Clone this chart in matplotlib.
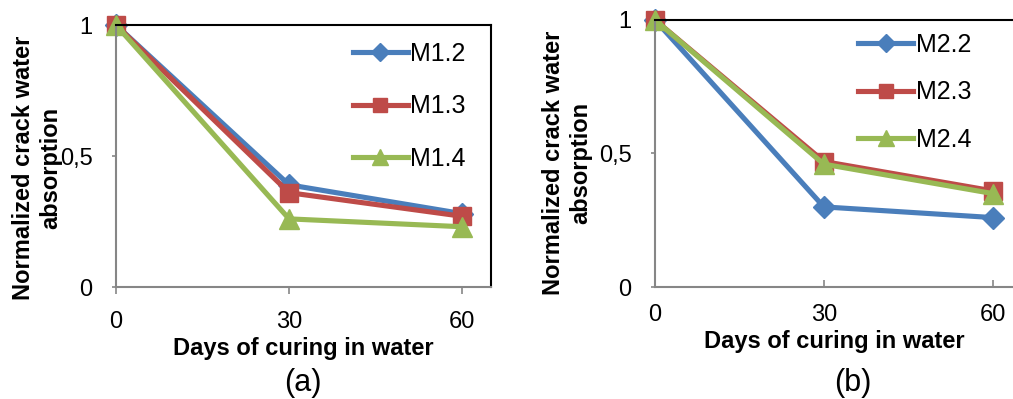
import matplotlib
matplotlib.use("Agg")
import matplotlib.pyplot as plt

plt.rcParams['font.family'] = ['Liberation Sans', 'DejaVu Sans']

days = [0, 30, 60]
ytick_vals = [0, 0.5, 1]
ytick_labels = ['0', '0,5', '1']

# panel (a)
m12 = [1.0, 0.39, 0.28]
m13 = [1.0, 0.36, 0.27]
m14 = [1.0, 0.26, 0.23]

# panel (b)
m22 = [1.0, 0.30, 0.26]
m23 = [1.0, 0.47, 0.36]
m24 = [1.0, 0.46, 0.35]

BLUE = '#4A7EBB'
RED = '#BE4B48'
GREEN = '#98B954'
GRAY = '#868686'


def draw_panel(ax, series, names, xmax, tickdir):
    styles = [(BLUE, 'D', 11), (RED, 's', 13), (GREEN, '^', 14)]
    for vals, name, (c, m, ms) in zip(series, names, styles):
        ax.plot(days, vals, color=c, marker=m, markersize=ms, lw=3.7,
                label=name, clip_on=False)
    ax.set_xlim(0, xmax)
    ax.set_ylim(0, 1)
    ax.set_xticks(days)
    ax.set_yticks(ytick_vals)
    ax.set_yticklabels(ytick_labels)
    ax.tick_params(axis='x', direction=tickdir, length=5, width=1.2,
                   color=GRAY, labelsize=17, pad=12)
    ax.tick_params(axis='y', direction='out', length=3, width=1.2,
                   color=GRAY, labelsize=17, pad=14)
    ax.spines['left'].set_color(GRAY)
    ax.spines['bottom'].set_color(GRAY)
    for s in ax.spines.values():
        s.set_linewidth(1.5)
    ax.set_xlabel('Days of curing in water', fontsize=17, fontweight='bold',
                  labelpad=3)


fig = plt.figure(figsize=(10.13, 3.99), dpi=100)

ax1 = fig.add_axes([0.1145, 0.2807, 0.3702, 0.6566])
draw_panel(ax1, [m12, m13, m14], ['M1.2', 'M1.3', 'M1.4'], 65, 'out')
ax1.legend(loc='upper left', bbox_to_anchor=(0.605, 0.975), frameon=False,
           fontsize=18, numpoints=1, handlelength=2.2, handletextpad=0.1,
           labelspacing=1.15, markerscale=0.8, borderaxespad=0)

ax2 = fig.add_axes([0.6466, 0.2807, 0.3534, 0.6692])
draw_panel(ax2, [m22, m23, m24], ['M2.2', 'M2.3', 'M2.4'], 63.6, 'in')
ax2.spines['right'].set_visible(False)
ax2.legend(loc='upper left', bbox_to_anchor=(0.54, 0.99), frameon=False,
           fontsize=18, numpoints=1, handlelength=2.2, handletextpad=0.1,
           labelspacing=0.95, markerscale=0.8, borderaxespad=0)

ylab = 'Normalized crack water\nabsorption'
fig.text(37 / 1013, 1 - 168 / 399, ylab, rotation=90, ha='center',
         va='center', fontsize=17, fontweight='bold', multialignment='center')
fig.text(567 / 1013, 1 - 163 / 399, ylab, rotation=90, ha='center',
         va='center', fontsize=17, fontweight='bold', multialignment='center')

fig.text(303 / 1013, 1 - 383 / 399, '(a)', ha='center', va='center',
         fontsize=22)
fig.text(853 / 1013, 1 - 383 / 399, '(b)', ha='center', va='center',
         fontsize=22)

fig.savefig('out.png', dpi=100)
